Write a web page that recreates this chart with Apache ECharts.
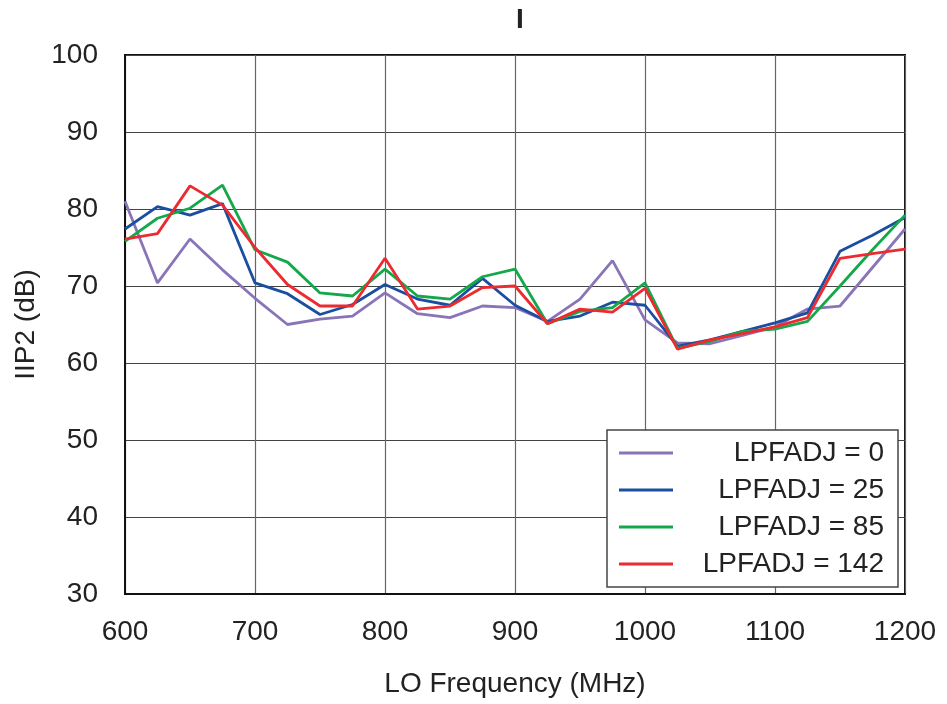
<!DOCTYPE html>
<html>
<head>
<meta charset="utf-8">
<script src="https://cdn.jsdelivr.net/npm/echarts@6/dist/echarts.min.js"></script>
<style>html,body{margin:0;padding:0;background:#fff}#c{width:947px;height:704px}</style>
</head>
<body>
<div id="c"></div>
<script>
const freqs = [600,625,650,675,700,725,750,775,800,825,850,875,900,925,950,975,1000,1025,1050,1075,1100,1125,1150,1175,1200];
const seriesNames = ['LPFADJ = 0','LPFADJ = 25','LPFADJ = 85','LPFADJ = 142'];
const lpf0   = [81.0,70.4,76.1,72.1,68.4,65.0,65.7,66.1,69.1,66.4,65.9,67.4,67.2,65.4,68.3,73.3,65.6,62.6,62.5,63.6,64.7,67.0,67.4,72.4,77.4];
const lpf25  = [77.4,80.3,79.2,80.7,70.4,69.0,66.3,67.6,70.2,68.3,67.5,71.0,67.5,65.4,66.1,67.9,67.5,62.2,63.0,64.1,65.2,66.5,74.5,76.6,78.9];
const lpf85  = [75.8,78.8,80.1,83.1,74.7,73.1,69.1,68.7,72.2,68.7,68.3,71.2,72.2,65.1,66.7,67.2,70.4,61.9,62.8,64.1,64.4,65.4,70.0,74.7,79.2];
const lpf142 = [76.1,76.8,83.0,80.5,75.0,70.2,67.4,67.4,73.6,67.0,67.4,69.8,70.0,65.1,67.0,66.6,69.7,61.8,63.0,63.8,64.7,65.9,73.6,74.2,74.8];
const colors = ['#8a74b8','#1a4f9f','#14a84a','#ec2a30'];
const allData = [lpf0, lpf25, lpf85, lpf142];

const font = 'Liberation Sans, Arial, sans-serif';
const fs = 28;
const chart = echarts.init(document.getElementById('c'));
chart.setOption({
  animation: false,
  title: { text: 'I', left: 515, top: 1, textAlign: 'center',
    textStyle: { fontFamily: font, fontSize: 28, fontWeight: 'bold', color: '#222' } },
  grid: { left: 125, right: 42, top: 55, bottom: 110, show: true, borderColor: '#111', borderWidth: 2, backgroundColor: 'transparent' },
  legend: {
    orient: 'vertical', right: 49, bottom: 117,
    backgroundColor: '#fff', borderColor: '#444', borderWidth: 1.5, borderRadius: 0,
    padding: [9, 14, 9, 12], itemGap: 9, itemWidth: 54, itemHeight: 28,
    icon: 'path://M0,12.6 L54,12.6 L54,15.4 L0,15.4 Z',
    data: seriesNames.map((n, i) => ({ name: n, itemStyle: { color: colors[i] } })),
    formatter: n => '{a|' + n + '}',
    textStyle: { fontFamily: font, fontSize: fs, color: '#222',
      rich: { a: { fontFamily: font, fontSize: fs, color: '#222', width: 206, align: 'right' } } }
  },
  xAxis: {
    type: 'value', min: 600, max: 1200, interval: 100,
    name: 'LO Frequency (MHz)', nameLocation: 'middle', nameGap: 76,
    nameTextStyle: { fontFamily: font, fontSize: fs, color: '#222', verticalAlign: 'top' },
    axisLine: { show: true, lineStyle: { color: '#111', width: 2 } },
    axisTick: { show: false },
    axisLabel: { fontFamily: font, fontSize: fs, color: '#222', margin: 24, formatter: v => String(v) },
    splitLine: { show: true, lineStyle: { color: '#666', width: 1.2 } }
  },
  yAxis: {
    type: 'value', min: 30, max: 100, interval: 10,
    name: 'IIP2 (dB)', nameLocation: 'middle', nameGap: 84,
    nameTextStyle: { fontFamily: font, fontSize: fs, color: '#222' },
    axisLine: { show: true, lineStyle: { color: '#111', width: 2 } },
    axisTick: { show: false },
    axisLabel: { fontFamily: font, fontSize: fs, color: '#222', margin: 27, formatter: v => String(v) },
    splitLine: { show: true, lineStyle: { color: '#444', width: 1.2 } }
  },
  series: allData.map((d, i) => ({
    name: seriesNames[i], type: 'line', showSymbol: false, symbol: 'none',
    data: freqs.map((f, j) => [f, d[j]]),
    lineStyle: { color: colors[i], width: 2.8 }, itemStyle: { color: colors[i] },
    z: 2 + i
  }))
});
</script>
</body>
</html>
